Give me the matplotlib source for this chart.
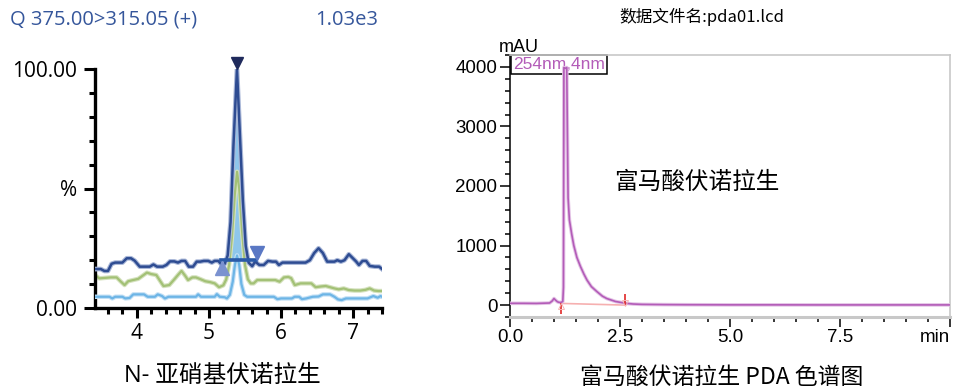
import matplotlib
matplotlib.use("Agg")
import matplotlib.pyplot as plt
import numpy as np

# ---- left: MRM trace, N-nitroso vonoprazan ----
rt = 5.389
dark_x = [3.42, 3.50, 3.55, 3.60, 3.65, 3.70, 3.80, 3.86, 3.92, 3.97, 4.04, 4.12, 4.18, 4.23, 4.28,
          4.36, 4.41, 4.46, 4.52, 4.57, 4.62, 4.67, 4.72, 4.78, 4.83, 4.88, 4.93, 4.99, 5.04, 5.08,
          5.13, 5.18, 5.22, 5.26, 5.30, 5.34, 5.389, 5.43, 5.47, 5.51, 5.55, 5.60, 5.64, 5.70, 5.76,
          5.82, 5.88, 5.93, 5.97, 6.02, 6.10, 6.22, 6.34, 6.40, 6.46, 6.52, 6.58, 6.64, 6.70, 6.74,
          6.78, 6.83, 6.88, 6.94, 6.99, 7.04, 7.08, 7.13, 7.18, 7.23, 7.30, 7.36, 7.40]
dark_y = [16.3, 16.3, 15.5, 15.5, 18.5, 19, 19, 20.8, 20.8, 19.8, 17.3, 17.3, 17.3, 18.2, 17.3,
          17.3, 18, 19.5, 19.5, 19, 19.7, 19.7, 17.3, 17.3, 19.4, 19.4, 19.7, 19.7, 19, 19.7,
          19.7, 18, 18.5, 22, 36, 68, 100, 72, 45, 26, 19, 17.5, 19.4, 18, 18,
          19.7, 19.4, 19.4, 18, 19, 19, 19, 19, 20, 23, 25, 23, 19.4, 19.4, 19.4,
          20, 19.4, 20, 22.5, 21, 19.5, 18, 19.7, 19.7, 17.6, 17.3, 17.3, 16.3]

green_x = [3.42, 3.48, 3.56, 3.64, 3.72, 3.78, 3.83, 3.88, 3.95, 4.02, 4.08, 4.14, 4.20, 4.27, 4.33,
           4.37, 4.45, 4.52, 4.57, 4.62, 4.67, 4.71, 4.77, 4.82, 4.88, 4.95, 5.02, 5.08, 5.14, 5.20,
           5.24, 5.28, 5.32, 5.36, 5.39, 5.42, 5.46, 5.50, 5.54, 5.58, 5.62, 5.67, 5.75, 5.83, 5.92,
           5.98, 6.04, 6.10, 6.14, 6.19, 6.27, 6.35, 6.42, 6.48, 6.55, 6.62, 6.68, 6.74, 6.80, 6.87,
           6.94, 7.02, 7.10, 7.17, 7.23, 7.29, 7.35, 7.40]
green_y = [13.8, 12.4, 12.6, 12.8, 12.8, 11, 9.6, 11.2, 11.7, 12.2, 13.5, 14.8, 14.2, 13.8, 11,
           9.2, 9.6, 12, 13.8, 15.5, 13.5, 11.7, 12.8, 12.8, 12.1, 11.2, 10.8, 10.3, 8.7, 9.5,
           12, 18, 30, 48, 57, 50, 32, 18, 12, 10.3, 10.3, 11.7, 11.7, 11.7, 11.7,
           11, 12.8, 13, 12.5, 9.6, 10.3, 10.3, 10.3, 8.7, 9, 9.2, 8.7, 8.2, 7.8, 8.2,
           7.5, 7.3, 7.3, 7.6, 8.2, 7.3, 7.1, 7.1]

light_x = [3.42, 3.62, 3.66, 3.70, 3.80, 3.84, 3.90, 3.95, 4.10, 4.15, 4.25, 4.29, 4.35, 4.39, 4.44,
           4.82, 4.85, 4.89, 5.08, 5.11, 5.15, 5.22, 5.25, 5.29, 5.33, 5.36, 5.39, 5.42, 5.45, 5.49,
           5.53, 5.90, 5.95, 6.00, 6.15, 6.19, 6.25, 6.29, 6.35, 6.44, 6.52, 6.58, 6.68, 6.74, 6.79,
           6.84, 6.90, 7.20, 7.28, 7.34, 7.38, 7.40]
light_y = [4.7, 4.7, 4.0, 4.7, 4.7, 4.0, 4.2, 5.7, 5.7, 4.7, 4.7, 5.7, 5.0, 4.0, 4.7,
           4.7, 5.7, 4.7, 4.7, 5.8, 4.7, 4.5, 4.0, 5.5, 11, 18, 22, 18, 10, 5.5,
           4.7, 4.7, 3.7, 4.0, 4.0, 4.7, 4.7, 3.7, 4.0, 4.7, 4.8, 5.7, 5.7, 4.7, 3.6,
           3.3, 4.0, 4.0, 5.0, 4.3, 5.0, 4.7]

peak_start, peak_end, peak_base = 5.17, 5.65, 20
start_mark = (5.18, 16.6)
end_mark = (5.67, 23)
top_mark = 102.6

# ---- right: PDA chromatogram, vonoprazan fumarate ----
pda_t = [0.0, 0.3, 0.6, 0.9, 0.96, 1.0, 1.04, 1.08, 1.12, 1.16, 1.20, 1.215, 1.225, 1.26, 1.29, 1.30,
         1.32, 1.35, 1.40, 1.45, 1.52, 1.60, 1.68, 1.75, 1.85, 1.97, 2.10, 2.20, 2.40, 2.65, 2.80, 3.00,
         3.50, 4.00, 5.00, 6.00, 7.00, 8.00, 9.00, 10.0]
pda_v = [30, 30, 28, 35, 70, 110, 80, 55, 45, 45, 60, 300, 3990, 3975, 3990, 3200,
         1800, 1430, 1200, 1000, 800, 650, 520, 420, 310, 230, 150, 110, 60, 28, 18, 12,
         8, 6, 4, 4, 3, 3, 3, 3]
base_t = [1.17, 2.61]
base_v = [28, 0]

purple = "#b35cb8"

fig = plt.figure(figsize=(9.54, 3.88), dpi=100)
lf = ["Open Sans", "Noto Sans CJK SC", "DejaVu Sans"]
rf = ["Liberation Sans", "Noto Sans CJK SC", "DejaVu Sans"]
cjk = ["Noto Sans CJK SC", "DejaVu Sans"]

# left panel
ax1 = fig.add_axes([95 / 954, 80 / 388, 287 / 954, 239 / 388])
dx = np.array(dark_x)
dy = np.array(dark_y)
sel = (dx >= peak_start) & (dx <= peak_end)
ax1.fill_between(dx, dy, peak_base, where=sel & (dy >= peak_base), interpolate=True,
                 color="#8ec6eb", lw=0, zorder=1)
ax1.plot(green_x, green_y, color="#d5e2bf", lw=3.2, zorder=2)
ax1.plot(green_x, green_y, color="#a3c176", lw=1.6, zorder=2)
ax1.plot(light_x, light_y, color="#c3e0f5", lw=3.2, zorder=3)
ax1.plot(light_x, light_y, color="#6db5e6", lw=1.6, zorder=3)
ax1.plot(dark_x, dark_y, color="#aab8d8", lw=3.4, zorder=4)
ax1.plot(dark_x, dark_y, color="#2e4c92", lw=1.8, zorder=4)
ax1.plot([peak_start, peak_end], [peak_base, peak_base], color="#2a5aa8", lw=2.6, zorder=5)
ax1.plot(*start_mark, marker="^", ms=10, color="#7b92d0", zorder=6, clip_on=False)
ax1.plot(*end_mark, marker="v", ms=10, color="#5a78c4", zorder=6, clip_on=False)
ax1.plot(rt, top_mark, marker="v", ms=9, color="#1f2a5c", zorder=6, clip_on=False)
ax1.annotate("", xy=(rt, top_mark), xytext=(7.4, 10.6), textcoords="offset points",
             arrowprops=dict(arrowstyle="-", color="black", lw=1.3, shrinkA=0, shrinkB=3.4))
ax1.annotate("RT=%.3f" % rt, xy=(rt, top_mark), xytext=(11.5, 11.3), textcoords="offset points",
             ha="left", va="center", fontsize=15, family=lf)

ax1.set_xlim(3.42, 7.40)
ax1.set_ylim(0, 100)
ax1.set_xticks([4, 5, 6, 7])
ax1.set_xticks(np.arange(3.6, 7.41, 0.2), minor=True)
ax1.set_yticks([0, 50, 100])
ax1.set_yticklabels(["0.00", "%", "100.00"])
ax1.set_yticks(np.arange(0, 101, 10), minor=True)
for s in ["top", "right"]:
    ax1.spines[s].set_visible(False)
for s in ["left", "bottom"]:
    ax1.spines[s].set_linewidth(2.4)
ax1.tick_params(which="major", length=7.5, width=2.2, labelsize=15, pad=3)
ax1.tick_params(axis="y", which="major", length=8, pad=5)
ax1.tick_params(which="minor", length=4, width=2.2)
for lab in ax1.get_xticklabels() + ax1.get_yticklabels():
    lab.set_family(lf)

fig.text(10 / 954, 1 - 20 / 388, "Q 375.00>315.05 (+)", color="#35569b", fontsize=14.5,
         family=lf, ha="left", va="center")
fig.text(378 / 954, 1 - 20 / 388, "1.03e3", color="#35569b", fontsize=14.5,
         family=lf, ha="right", va="center")
fig.text(222 / 954, 1 - 376 / 388, "N- 亚硝基伏诺拉生", fontsize=17, family=lf,
         ha="center", va="center")

# right panel
ax2 = fig.add_axes([510 / 954, 71 / 388, 440 / 954, 262 / 388])
ax2.text(0.006, 0.964, "254nm,4nm", transform=ax2.transAxes, color=purple, fontsize=12.5,
         family=rf, ha="left", va="center", zorder=1,
         bbox=dict(boxstyle="square,pad=0.12", fc="white", ec="black", lw=1.1))
ax2.plot(base_t, base_v, color="#f6b0b0", lw=1.2, zorder=2)
ax2.plot(pda_t, pda_v, color="#e4c4e6", lw=2.6, zorder=3)
ax2.plot(pda_t, pda_v, color=purple, lw=1.2, zorder=3)
ax2.vlines(base_t[0], -150, base_v[0], color="#e02828", lw=1.2, zorder=4)
ax2.vlines(base_t[1], base_v[1], 180, color="#e02828", lw=1.2, zorder=4)
ax2.plot(base_t[0], base_v[0] - 40, marker="^", ms=5, mfc="none", mec="#f6b4b4", mew=0.7, zorder=4)
ax2.plot(base_t[1], base_v[1] + 40, marker="v", ms=5, mfc="none", mec="#f6b4b4", mew=0.7, zorder=4)
ax2.text(0.425, 0.515, "富马酸伏诺拉生", transform=ax2.transAxes, fontsize=17, family=cjk,
         ha="center", va="center")

ax2.set_xlim(0, 10)
ax2.set_ylim(-200, 4200)
ax2.set_xticks([0, 2.5, 5, 7.5, 10])
ax2.set_xticklabels(["0.0", "2.5", "5.0", "7.5", "min"])
ax2.set_xticks(np.arange(0, 10.01, 0.5), minor=True)
ax2.set_yticks([0, 1000, 2000, 3000, 4000])
ax2.set_yticks(np.arange(-200, 4201, 200), minor=True)
for s in ["top", "right", "bottom"]:
    ax2.spines[s].set_color("#c8c8c8")
    ax2.spines[s].set_linewidth(1.2)
ax2.spines["bottom"].set_linewidth(2.2)
ax2.spines["left"].set_linewidth(1.1)
ax2.tick_params(which="major", length=7, width=1.1, labelsize=13.5, pad=2)
ax2.tick_params(which="minor", length=3.8, width=1.1)
for lab in ax2.get_xticklabels() + ax2.get_yticklabels():
    lab.set_family(rf)
ax2.get_xticklabels()[-1].set_horizontalalignment("right")

fig.text(519 / 954, 1 - 47 / 388, "mAU", fontsize=13, family=rf, ha="center", va="center")
fig.text(702 / 954, 1 - 17 / 388, "数据文件名:pda01.lcd", fontsize=12, family=cjk,
         ha="center", va="center")
fig.text(722 / 954, 1 - 377 / 388, "富马酸伏诺拉生 PDA 色谱图", fontsize=16.5, family=cjk,
         ha="center", va="center")

fig.savefig("out.png", dpi=100)
